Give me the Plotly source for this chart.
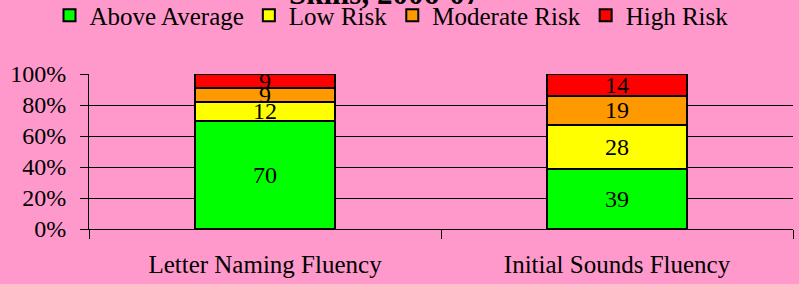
import plotly.graph_objects as go

categories = ["Letter Naming Fluency", "Initial Sounds Fluency"]
series_names = ["Above Average", "Low Risk", "Moderate Risk", "High Risk"]
above_average = [70, 39]
low_risk = [12, 28]
moderate_risk = [9, 19]
high_risk = [9, 14]
colors = ["#00FF00", "#FFFF00", "#FF9900", "#FF0000"]
y_ticks = [0, 20, 40, 60, 80, 100]
y_tick_labels = ["0%", "20%", "40%", "60%", "80%", "100%"]
title_text = "Skills, 2006-07"

FONT = "Liberation Serif, Times New Roman, serif"
BG = "#FF99CC"

fig = go.Figure()
for name, vals, col in zip(series_names, [above_average, low_risk, moderate_risk, high_risk], colors):
    fig.add_trace(go.Bar(
        x=categories, y=vals, name=name,
        marker=dict(color=col, line=dict(color="black", width=2)),
        text=[str(v) for v in vals], textposition="inside",
        insidetextanchor="middle", textangle=0,
        textfont=dict(family=FONT, size=24, color="black"),
        width=0.4,
    ))

fig.update_layout(
    barmode="stack",
    width=799, height=284,
    margin=dict(l=89, r=6, t=74, b=55, pad=0, autoexpand=False),
    paper_bgcolor=BG, plot_bgcolor=BG,
    font=dict(family=FONT, size=24, color="black"),
    uniformtext=dict(minsize=24, mode="show"),
    showlegend=True,
    legend=dict(orientation="h", xref="container", yref="container",
                x=0.49, xanchor="center", y=0.945, yanchor="middle",
                font=dict(family=FONT, size=25, color="black"),
                bgcolor="rgba(0,0,0,0)", traceorder="normal",
                itemwidth=30, tracegroupgap=0),
    annotations=[dict(text="<b>" + title_text + "</b>", xref="paper", yref="paper",
                      x=(384 - 89) / 704, y=1, xanchor="center", yanchor="bottom",
                      yshift=61, showarrow=False,
                      font=dict(family=FONT, size=31, color="black"))],
)
fig.update_xaxes(showline=True, linecolor="black", linewidth=1, automargin=False,
                 ticks="outside", ticklen=9, tickcolor="black", tickson="boundaries",
                 showgrid=False, tickfont=dict(family=FONT, size=25),
                 ticklabelstandoff=13)
fig.update_yaxes(range=[0, 100], tickvals=y_ticks, ticktext=y_tick_labels,
                 showline=True, linecolor="black", linewidth=1, automargin=False,
                 ticks="outside", ticklen=8, tickcolor="black",
                 showgrid=True, gridcolor="black", gridwidth=1,
                 zeroline=False, tickfont=dict(family=FONT, size=24),
                 ticklabelstandoff=9)

fig.write_html("out.html", config={"displayModeBar": False},
               post_script="document.body.style.margin='0';document.body.style.overflow='hidden';")
